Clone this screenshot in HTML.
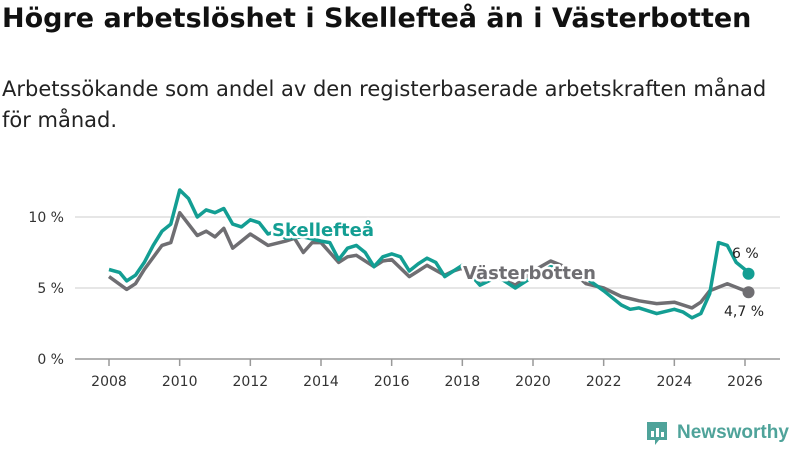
<!DOCTYPE html>
<html><head><meta charset="utf-8"><style>
body{margin:0;width:800px;height:450px;background:#fff;font-family:"DejaVu Sans","Liberation Sans",sans-serif;overflow:hidden;position:relative}
h1{position:absolute;left:2px;top:3px;margin:0;font-size:27px;font-weight:bold;color:#111;white-space:nowrap;letter-spacing:0}
p{position:absolute;left:2px;top:74px;margin:0;font-size:21px;line-height:31px;color:#222;width:798px;white-space:nowrap}
svg{position:absolute;left:0;top:0}
</style></head><body>
<h1>Högre arbetslöshet i Skellefteå än i Västerbotten</h1>
<p>Arbetssökande som andel av den registerbaserade arbetskraften månad<br>för månad.</p>
<svg id="c" width="800" height="450"></svg>
<script>
const yTicks=[0,5,10];
const xTicks=[2008,2010,2012,2014,2016,2018,2020,2022,2024,2026];
const skeDates=[2008,2008.3,2008.5,2008.75,2009,2009.25,2009.5,2009.75,2010,2010.25,2010.5,2010.75,2011,2011.25,2011.5,2011.75,2012,2012.25,2012.5,2012.75,2013,2013.5,2014,2014.25,2014.5,2014.75,2015,2015.25,2015.5,2015.75,2016,2016.25,2016.5,2016.75,2017,2017.25,2017.5,2017.75,2018,2018.5,2019,2019.5,2020,2020.5,2021,2021.5,2022,2022.5,2022.75,2023,2023.5,2024,2024.25,2024.5,2024.75,2025,2025.25,2025.5,2025.75,2026,2026.1];
const skeValues=[6.3,6.1,5.5,5.9,6.8,8.0,9.0,9.5,11.9,11.3,10.0,10.5,10.3,10.6,9.5,9.3,9.8,9.6,8.8,9.0,8.5,8.6,8.3,8.2,7.0,7.8,8.0,7.5,6.5,7.2,7.4,7.2,6.2,6.7,7.1,6.8,5.8,6.2,6.6,5.2,5.8,5.0,5.8,6.5,6.2,5.7,4.8,3.8,3.5,3.6,3.2,3.5,3.3,2.9,3.2,4.6,8.2,8.0,6.8,6.3,6.0];
const vbDates=[2008,2008.5,2008.75,2009,2009.5,2009.75,2010,2010.5,2010.75,2011,2011.25,2011.5,2011.75,2012,2012.5,2013,2013.25,2013.5,2013.75,2014,2014.5,2014.75,2015,2015.5,2015.75,2016,2016.5,2016.75,2017,2017.5,2017.75,2018,2018.5,2019,2019.5,2020,2020.5,2021,2021.5,2022,2022.5,2023,2023.5,2024,2024.5,2024.75,2025,2025.5,2026,2026.1];
const vbValues=[5.8,4.9,5.3,6.3,8.0,8.2,10.3,8.7,9.0,8.6,9.2,7.8,8.3,8.8,8.0,8.3,8.5,7.5,8.2,8.2,6.8,7.2,7.3,6.5,6.9,7.0,5.8,6.2,6.6,5.9,6.2,6.4,5.5,5.8,5.2,6.2,6.9,6.4,5.3,5.0,4.4,4.1,3.9,4.0,3.6,4.0,4.8,5.3,4.8,4.7];
const X=y=>109+(y-2008)*(636/18);
const Y=v=>359-v*14.2;
const svg=document.getElementById('c');
const NS='http://www.w3.org/2000/svg';
function mk(t,a){const e=document.createElementNS(NS,t);for(const k in a)e.setAttribute(k,a[k]);svg.appendChild(e);return e;}
yTicks.forEach(v=>{
 const l=mk('line',{x1:75,x2:780,y1:Y(v),y2:Y(v),stroke:v===0?'#999':'#ddd','stroke-width':1.5});
 
 
 const t=mk('text',{x:64,y:Y(v)+5,'text-anchor':'end','font-size':14,fill:'#333'});
 t.textContent=v+' %';
 
 
});
xTicks.forEach(y=>{
 const l=mk('line',{x1:X(y),x2:X(y),y1:359,y2:366,stroke:'#999','stroke-width':1.5});
 
 
 const t=mk('text',{x:X(y),y:386,'text-anchor':'middle','font-size':14,fill:'#333'});
 t.textContent=y;
 
 
});
function line(d,v,c,name){
 const p=mk('path',{d:d.map((x,i)=>(i?'L':'M')+X(x).toFixed(1)+','+Y(v[i]).toFixed(1)).join(''),fill:'none',stroke:c,'stroke-width':3.5,'stroke-linejoin':'round'});
 
 
 const n=d.length-1;
 const dot=mk('circle',{cx:X(d[n]),cy:Y(v[n]),r:6,fill:c});
 
 
}
line(vbDates,vbValues,'#6f6e72','vasterbotten-line');
line(skeDates,skeValues,'#139e93','skelleftea-line');
function lab(x,y,txt,c,name,anchor,bold,size){
 const t=mk('text',{x:x,y:y,'font-size':size,'font-weight':bold?'bold':'normal',fill:c,'text-anchor':anchor||'start',stroke:bold?'#fff':'none','stroke-width':bold?5:0,'paint-order':'stroke','stroke-linejoin':'round'});
 t.textContent=txt;
 
 
}
lab(272,236,'Skellefteå','#139e93','skelleftea-label','start',true,18);
lab(463,279,'Västerbotten','#6f6e72','vasterbotten-label','start',true,18);
lab(732,258,'6 %','#222','skelleftea-end-value','start',false,14);
lab(724,316,'4,7 %','#222','vasterbotten-end-value','start',false,14);
</script>
<div style="position:absolute;left:645px;top:420px;height:26px;display:flex;align-items:center">
<svg width="24" height="26" viewBox="0 0 24 26" style="position:static"><path d="M2 2h20v18h-8l-4 5v-5H2z" fill="#4fa39a"/><rect x="6" y="11" width="3" height="6" fill="#fff"/><rect x="11" y="8" width="3" height="9" fill="#fff"/><rect x="16" y="12" width="3" height="5" fill="#fff"/></svg>
<span style="font-family:'Liberation Sans',sans-serif;font-size:19px;font-weight:bold;color:#4fa39a;margin-left:8px">Newsworthy</span></div>
</body></html>
